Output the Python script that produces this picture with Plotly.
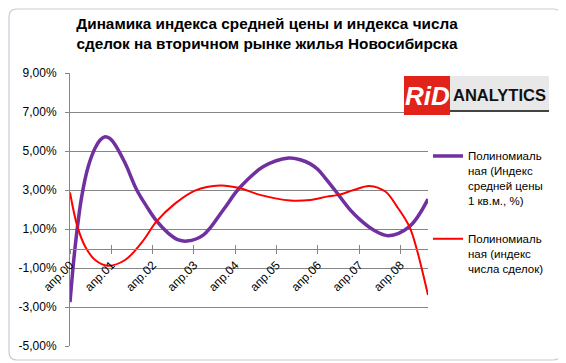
import plotly.graph_objects as go

# The page body adds an 8px margin, so the figure is drawn 8px in from the window corner.
WIN_W, WIN_H, OFF = 566, 363, 8
W, H = WIN_W - OFF, WIN_H - OFF

# ---- data (months counted from April 2000) ----
price_month = [0, 1.5, 3.4, 5.3, 7.3, 8.7, 10, 11.5, 13, 16, 19.4, 22.3, 25.2, 28.6, 31.5, 34,
               38.8, 44.6, 49.2, 56.2, 63.5, 66.9, 69.8, 72.1, 74.1, 76.2, 78, 81.4,
               84.3, 88.2, 92.5, 98.6, 104]
price_value = [-2.75, 0.1, 2.66, 4.2, 5.15, 5.55, 5.72, 5.65, 5.35, 4.38, 3.0, 2.15, 1.4, 0.78,
               0.44, 0.38, 0.7, 2.0, 3.1, 4.2, 4.64, 4.55, 4.34, 4.04, 3.62, 3.16, 2.75, 1.98,
               1.47, 0.95, 0.66, 1.12, 2.53]

deals_month = [0, 2.1, 4.4, 7.3, 11, 16, 20.8, 25.2, 30.5, 36.3, 43.6, 49.2, 55.2, 64,
               69.8, 74.6, 78, 82.4, 87, 91.6, 95, 98.6, 100.8, 104]
deals_value = [2.87, 1.16, 0.1, -0.59, -0.88, -0.59, 0.3, 1.4, 2.3, 2.97, 3.23, 3.1, 2.75, 2.46,
               2.49, 2.66, 2.75, 3.0, 3.21, 2.92, 2.15, 1.12, -0.08, -2.39]

tick_months = [0, 12, 24, 36, 48, 60, 72, 84, 96]
tick_labels = ["апр.00", "апр.01", "апр.02", "апр.03", "апр.04", "апр.05", "апр.06", "апр.07", "апр.08"]
y_ticks = [-5, -3, -1, 1, 3, 5, 7, 9]
y_tick_labels = [f"{v:.2f}".replace(".", ",") + "%" for v in y_ticks]

name_price = "Полиномиаль<br>ная (Индекс<br>средней цены<br>1 кв.м., %)"
name_deals = "Полиномиаль<br>ная (индекс<br>числа сделок)"
title_text = "Динамика индекса средней цены и индекса числа<br>сделок на вторичном рынке жилья Новосибирска"

# ---- layout helpers (window pixel -> paper) ----
def px(x):
    return (x - OFF) / W

def py(y):
    return 1 - (y - OFF) / H

plot_l, plot_r, plot_t, plot_b = 70, 428, 73, 346
y_min, y_max = -5, 9
zero_y = plot_b - (plot_b - plot_t) * (0 - y_min) / (y_max - y_min)

fig = go.Figure()
fig.add_trace(go.Scatter(x=price_month, y=price_value, mode="lines", name=name_price,
                         legendgroup="a",
                         line=dict(color="#7030A0", width=3.5, shape="spline", smoothing=1.0)))
fig.add_trace(go.Scatter(x=deals_month, y=deals_value, mode="lines", name=name_deals,
                         legendgroup="b",
                         line=dict(color="#FF0000", width=2, shape="spline", smoothing=1.0)))
fig.add_trace(go.Scatter(x=[], y=[], xaxis="x2", showlegend=False, hoverinfo="skip"))

grid = "#868686"
fig.update_layout(
    template="none",
    width=W, height=H, autosize=False,
    margin=dict(l=0, r=0, t=0, b=0, pad=0),
    paper_bgcolor="white", plot_bgcolor="rgba(0,0,0,0)",
    font=dict(family="Liberation Sans, Arial, sans-serif", size=12, color="black"),
    title=dict(text=title_text, x=px(267), xanchor="center", xref="paper",
               y=py(29), yanchor="middle", yref="paper",
               font=dict(family="Liberation Sans, Arial", size=15.3,
                         color="black", weight="bold")),
    xaxis=dict(domain=[px(plot_l), px(plot_r)], range=[0, 104], anchor="free",
               position=py(zero_y), tickvals=tick_months, ticktext=tick_labels,
               tickangle=-45, ticks="outside", ticklen=4, tickcolor=grid, automargin=False,
               showline=True, linecolor=grid, linewidth=1, showgrid=False, zeroline=False,
               tickfont=dict(size=12)),
    xaxis2=dict(domain=[px(plot_l), px(plot_r)], range=[0, 104], overlaying="x", anchor="free",
                position=py(zero_y), tickvals=tick_months, ticks="inside", ticklen=4,
                tickcolor=grid, showticklabels=False, showline=False, showgrid=False,
                zeroline=False, automargin=False),
    yaxis=dict(domain=[py(plot_b), py(plot_t)], range=[y_min, y_max], tickvals=y_ticks,
               ticktext=y_tick_labels, ticks="outside", ticklen=4, tickcolor=grid,
               showline=True, linecolor=grid, linewidth=1, showgrid=True, gridcolor=grid,
               gridwidth=1, zeroline=False, ticklabelstandoff=6, tickfont=dict(size=12),
               automargin=False),
    legend=dict(x=px(428), y=py(142), xanchor="left", yanchor="top", valign="top",
                bgcolor="rgba(0,0,0,0)", tracegroupgap=20, borderwidth=0,
                font=dict(family="Liberation Sans, Arial", size=11.5, color="black")),
    showlegend=True,
)

# ---- chart border with rounded corners ----
bx0, by0, bx1, by1, r = 9, 9, 561, 360, 8
path = (f"M {px(bx0 + r)},{py(by0)} L {px(bx1 - r)},{py(by0)} "
        f"Q {px(bx1)},{py(by0)} {px(bx1)},{py(by0 + r)} L {px(bx1)},{py(by1 - r)} "
        f"Q {px(bx1)},{py(by1)} {px(bx1 - r)},{py(by1)} L {px(bx0 + r)},{py(by1)} "
        f"Q {px(bx0)},{py(by1)} {px(bx0)},{py(by1 - r)} L {px(bx0)},{py(by0 + r)} "
        f"Q {px(bx0)},{py(by0)} {px(bx0 + r)},{py(by0)} Z")
shapes = [dict(type="path", path=path, xref="paper", yref="paper",
               line=dict(color="#c3ced8", width=1.2), layer="below")]

# ---- logo ----
shapes += [
    dict(type="rect", xref="paper", yref="paper", x0=px(450), x1=px(549), y0=py(111), y1=py(76),
         fillcolor="#e8e8e8", line=dict(width=0), layer="above"),
    dict(type="line", xref="paper", yref="paper", x0=px(450), x1=px(549), y0=py(111), y1=py(111),
         line=dict(color="#444444", width=2), layer="above"),
    dict(type="rect", xref="paper", yref="paper", x0=px(404), x1=px(450), y0=py(115), y1=py(76),
         fillcolor="#e2231a", line=dict(width=0), layer="above"),
]
annotations = [
    dict(text="<b><i>RiD</i></b>", x=px(427), y=py(96), xref="paper", yref="paper",
         showarrow=False, xanchor="center", yanchor="middle",
         font=dict(family="Liberation Sans, Arial", size=26, color="white")),
    dict(text="<b>ANALYTICS</b>", x=px(499), y=py(95), xref="paper", yref="paper",
         showarrow=False, xanchor="center", yanchor="middle",
         font=dict(family="Liberation Sans, Arial", size=16.5, color="#111111")),
]
fig.update_layout(shapes=shapes, annotations=annotations)

fig.write_html("out.html")
